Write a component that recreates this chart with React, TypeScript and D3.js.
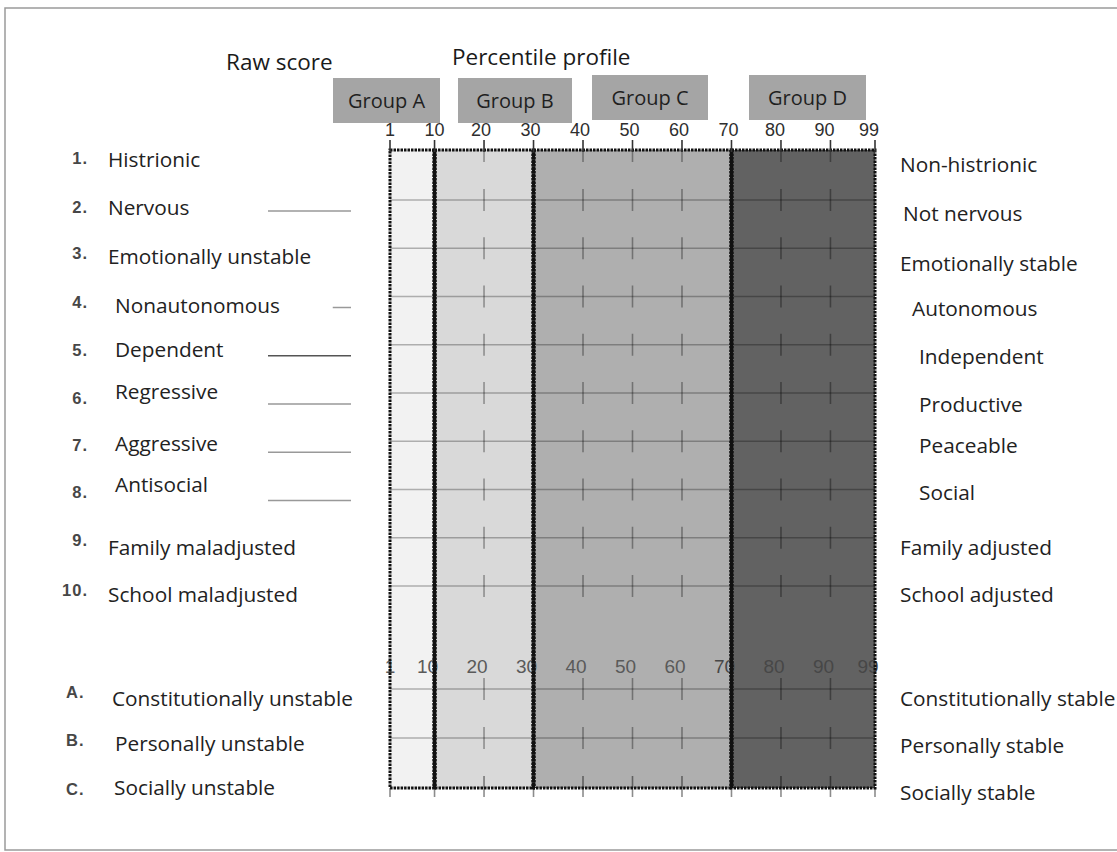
import React from "react";
import * as d3 from "d3";

// ---------- data ----------
const percentileTicks = [1, 10, 20, 30, 40, 50, 60, 70, 80, 90, 99];
const innerTicks = [20, 40, 50, 60, 80, 90];
const bandEdges = [1, 10, 30, 70, 99];
const bandFills = ["#f2f2f2", "#d9d9d9", "#afafaf", "#626262"];
const groupLabels = ["Group A", "Group B", "Group C", "Group D"];
const rowNumbers = ["1.", "2.", "3.", "4.", "5.", "6.", "7.", "8.", "9.", "10."];
const leftTraits = [
  "Histrionic",
  "Nervous",
  "Emotionally unstable",
  "Nonautonomous",
  "Dependent",
  "Regressive",
  "Aggressive",
  "Antisocial",
  "Family maladjusted",
  "School maladjusted",
];
const rightTraits = [
  "Non-histrionic",
  "Not nervous",
  "Emotionally stable",
  "Autonomous",
  "Independent",
  "Productive",
  "Peaceable",
  "Social",
  "Family adjusted",
  "School adjusted",
];
// raw-score blanks: row index and relative length (1 = full)
const rawRows = [1, 3, 4, 5, 6, 7];
const rawLengths = [1, 0.22, 1, 1, 1, 1];
const summaryLetters = ["A.", "B.", "C."];
const summaryLeft = ["Constitutionally unstable", "Personally unstable", "Socially unstable"];
const summaryRight = ["Constitutionally stable", "Personally stable", "Socially stable"];

// ---------- layout (not data) ----------
const W = 1117;
const H = 852;
const groupBoxes = [
  [333, 440, 78],
  [458, 572, 78],
  [592, 708, 75],
  [749, 866, 75],
];
const leftIndent = [0, 0, 0, 7, 7, 7, 7, 7, 0, 0];
const leftNudge = [0, 0, 0, 1, -3, -9, -6, -13, 2, 1];
const numNudge = [-2, -1, -3, -2, -3, -3, -4, -5, -6, -4];
const rightIndent = [0, 3, 0, 12, 19, 19, 19, 19, 0, 0];
const rightNudge = [1, 2, 3, 0, 0, 0, -8, -9, -2, -3];
const sumLeftIndent = [0, 3, 2];

const x = d3.scaleLinear().domain([1, 99]).range([390, 875]);
const rowY = d3.scaleLinear().domain([0, 10]).range([151.75, 634.25]);
const sumY = d3.scaleLinear().domain([0, 2]).range([689, 787]);
const sumLabelLeftY = d3.scaleLinear().domain([0, 2]).range([699, 788]);
const sumLabelRightY = d3.scaleLinear().domain([0, 2]).range([699, 793]);
const sumLetterY = d3.scaleLinear().domain([0, 2]).range([692, 789]);
const TOP = 150;
const BOTTOM = 788;

const labelFont = "'Open Sans', 'Noto Sans', sans-serif";
const numFont = "'Liberation Sans', Arial, sans-serif";

export default function App() {
  const rowLines = d3.range(1, 10).map((i) => rowY(i));
  const sumLines = [sumY(0), sumY(1)];
  const allLines = [...rowLines, ...sumLines];
  const rawX0 = 268;
  const rawX1 = 351;
  const LF = 20.8;

  return (
    <svg
      width={W}
      height={H}
      style={{ position: "absolute", left: 0, top: 0, background: "#fff" }}
      fontFamily={labelFont}
    >
      {/* frame */}
      <rect x={5} y={8} width={W + 20} height={842} fill="none" stroke="#9a9a9a" strokeWidth={1.5} />

      {/* titles */}
      <text x={226} y={62} dy="0.35em" fontSize={22.5} fill="#1a1a1a">Raw score</text>
      <text x={452} y={57} dy="0.35em" fontSize={22.5} fill="#1a1a1a">Percentile profile</text>

      {/* group boxes */}
      {groupLabels.map((g, i) => {
        const [x0, x1, yTop] = groupBoxes[i];
        return (
          <g key={g}>
            <rect x={x0} y={yTop} width={x1 - x0} height={45} fill="#a5a5a5" />
            <text x={(x0 + x1) / 2} y={yTop + 23} dy="0.35em" textAnchor="middle" fontSize={20} fill="#1f1f1f">
              {g}
            </text>
          </g>
        );
      })}

      {/* bands */}
      {bandFills.map((f, i) => (
        <rect
          key={"band" + i}
          x={x(bandEdges[i])}
          y={TOP}
          width={x(bandEdges[i + 1]) - x(bandEdges[i])}
          height={BOTTOM - TOP}
          fill={f}
        />
      ))}

      {/* horizontal row lines */}
      {allLines.map((y, i) => (
        <line key={"hl" + i} x1={x(1)} x2={x(99)} y1={y} y2={y} stroke="rgba(0,0,0,0.28)" strokeWidth={1.5} />
      ))}

      {/* ticks on row lines */}
      {allLines.map((y, i) =>
        innerTicks.map((t) => (
          <line
            key={"tk" + i + "-" + t}
            x1={x(t)}
            x2={x(t)}
            y1={y - 11}
            y2={y + 11}
            stroke="rgba(0,0,0,0.35)"
            strokeWidth={1.6}
          />
        ))
      )}
      {/* ticks just under top border */}
      {innerTicks.map((t) => (
        <line key={"tt" + t} x1={x(t)} x2={x(t)} y1={TOP} y2={TOP + 12} stroke="rgba(0,0,0,0.35)" strokeWidth={1.6} />
      ))}
      {/* ticks at bottom border */}
      {percentileTicks.map((t) => (
        <line
          key={"bt" + t}
          x1={x(t)}
          x2={x(t)}
          y1={innerTicks.includes(t) ? BOTTOM - 12 : BOTTOM}
          y2={BOTTOM + 9}
          stroke="rgba(0,0,0,0.45)"
          strokeWidth={1.6}
        />
      ))}

      {/* second (summary) axis labels */}
      {percentileTicks.map((t) => (
        <text
          key={"bl" + t}
          x={x(t) - (t === 1 ? 0 : 7)}
          y={666}
          dy="0.35em"
          textAnchor="middle"
          fontFamily={numFont}
          fontSize={19}
          fill={t >= 70 ? "#474747" : "#5a5a5a"}
        >
          {t}
        </text>
      ))}

      {/* band borders (dotted) */}
      {bandFills.map((_, i) => (
        <rect
          key={"bb" + i}
          x={x(bandEdges[i])}
          y={TOP}
          width={x(bandEdges[i + 1]) - x(bandEdges[i])}
          height={BOTTOM - TOP}
          fill="none"
          stroke="#111"
          strokeWidth={3}
          strokeDasharray="2.5 1"
        />
      ))}
      {bandEdges.slice(1, 4).map((e) => (
        <line key={"be" + e} x1={x(e)} x2={x(e)} y1={TOP} y2={BOTTOM} stroke="#111" strokeWidth={4.5} strokeDasharray="2.5 1" />
      ))}

      {/* top axis */}
      {percentileTicks.map((t) => (
        <g key={"ta" + t}>
          <line x1={x(t)} x2={x(t)} y1={140} y2={TOP + 2} stroke="#333" strokeWidth={1.6} />
          <text
            x={x(t) - (t >= 80 ? 6 : t > 10 ? 3 : 0)}
            y={130}
            dy="0.35em"
            textAnchor="middle"
            fontFamily={numFont}
            fontSize={18}
            fill="#2e2e2e"
          >
            {t}
          </text>
        </g>
      ))}

      {/* left labels */}
      {leftTraits.map((s, i) => (
        <g key={"lt" + i}>
          <text
            x={88}
            y={rowY(i) + 8 + numNudge[i]}
            dy="0.35em"
            textAnchor="end"
            fontFamily={numFont}
            fontWeight="bold"
            fontSize={16.5}
            letterSpacing={1}
            fill="#474747"
          >
            {rowNumbers[i]}
          </text>
          <text x={108 + leftIndent[i]} y={rowY(i) + 8 + leftNudge[i]} dy="0.35em" fontSize={LF} fill="#222">
            {s}
          </text>
        </g>
      ))}

      {/* raw score blanks */}
      {rawRows.map((r, i) => (
        <line
          key={"raw" + r}
          x1={rawX1 - (rawX1 - rawX0) * rawLengths[i]}
          x2={rawX1}
          y1={rowY(r) + 11}
          y2={rowY(r) + 11}
          stroke={r === 4 ? "#555" : "#999"}
          strokeWidth={1.5}
        />
      ))}

      {/* right labels */}
      {rightTraits.map((s, i) => (
        <text key={"rt" + i} x={900 + rightIndent[i]} y={rowY(i) + 12 + rightNudge[i]} dy="0.35em" fontSize={LF} fill="#222">
          {s}
        </text>
      ))}

      {/* summary rows */}
      {summaryLeft.map((s, i) => (
        <g key={"sl" + i}>
          <text x={66} y={sumLetterY(i)} dy="0.35em" fontFamily={numFont} fontWeight="bold" fontSize={16.5} letterSpacing={1} fill="#474747">
            {summaryLetters[i]}
          </text>
          <text x={112 + sumLeftIndent[i]} y={sumLabelLeftY(i)} dy="0.35em" fontSize={LF} fill="#222">
            {s}
          </text>
          <text x={900} y={sumLabelRightY(i)} dy="0.35em" fontSize={LF} fill="#222">
            {summaryRight[i]}
          </text>
        </g>
      ))}
    </svg>
  );
}
